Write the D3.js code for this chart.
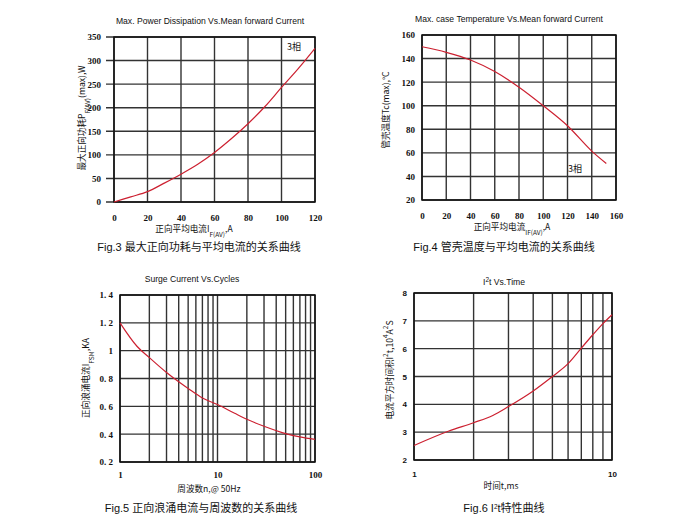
<!DOCTYPE html>
<html>
<head>
<meta charset="utf-8">
<script src="https://cdn.jsdelivr.net/npm/d3@7"></script>
<style>
  body { margin: 0; background: #fff; }
  text { fill: #111; }
  .tt { font-family: Arial, "Liberation Sans", sans-serif; font-size: 8.6px; }
  .cap { font-family: Arial, "Liberation Sans", "Noto Sans CJK SC", sans-serif; font-size: 11px; }
  .lab { font-family: "Noto Sans CJK SC", sans-serif; font-size: 8.6px; }
  .serif { font-family: "Liberation Serif", "DejaVu Serif", serif; font-weight: bold; font-size: 9px; }
  .sansb { font-family: Arial, "Liberation Sans", sans-serif; font-weight: bold; font-size: 8px; }
</style>
</head>
<body>
<div id="chart"></div>
<script>
// Fig.3 power dissipation
var powX = [0, 10, 20, 30, 40, 50, 60, 70, 80, 90, 100, 110, 120];
var powY = [0, 11, 22, 40, 59, 80, 105, 134, 166, 202, 243, 283, 326];
var powXTicks = [0, 20, 40, 60, 80, 100, 120];
var powYTicks = [0, 50, 100, 150, 200, 250, 300, 350];

// Fig.4 case temperature
var tempX = [0, 20, 40, 60, 80, 100, 120, 140, 152];
var tempY = [150, 145.3, 138.8, 129, 115.7, 100, 83, 61.5, 51];
var tempXTicks = [0, 20, 40, 60, 80, 100, 120, 140, 160];
var tempYTicks = [20, 40, 60, 80, 100, 120, 140, 160];

// Fig.5 surge current vs cycles
var surgeX = [1, 1.5, 2, 3, 4, 5, 7, 10, 15, 20, 30, 50, 70, 100];
var surgeY = [1.2, 1.03, 0.95, 0.843, 0.776, 0.728, 0.66, 0.613, 0.55, 0.507, 0.457, 0.404, 0.38, 0.362];
var surgeXTicks = [1, 10, 100];
var surgeYTicks = [0.2, 0.4, 0.6, 0.8, 1.0, 1.2, 1.4];
var surgeYLabels = ["0. 2", "0. 4", "0. 6", "0. 8", "1", "1. 2", "1. 4"];

// Fig.6 I2t vs time
var i2tX = [1, 1.5, 2, 2.5, 3, 4, 5, 6, 7, 8, 9, 10];
var i2tY = [2.52, 3.04, 3.34, 3.6, 3.92, 4.48, 5.0, 5.46, 6.02, 6.5, 6.9, 7.22];
var i2tXTicks = [1, 10];
var i2tYTicks = [2, 3, 4, 5, 6, 7, 8];

var svg = d3.select("#chart").append("svg")
  .attr("width", 700).attr("height", 531);

function panel(o) {
  var g = svg.append("g");
  var x = (o.log ? d3.scaleLog() : d3.scaleLinear()).domain(o.xd).range([o.l, o.r]);
  var y = d3.scaleLinear().domain(o.yd).range([o.b, o.t]);

  // grid
  g.append("g").selectAll("line").data(o.xGrid).enter().append("line")
    .attr("x1", d => x(d)).attr("x2", d => x(d))
    .attr("y1", o.t).attr("y2", o.b)
    .attr("stroke", "#333").attr("stroke-width", 1.4);
  g.append("g").selectAll("line").data(o.yTicks).enter().append("line")
    .attr("x1", o.l - (o.tick || 0)).attr("x2", o.r)
    .attr("y1", d => y(d)).attr("y2", d => y(d))
    .attr("stroke", "#333").attr("stroke-width", 1.4);
  g.append("rect").attr("x", o.l).attr("y", o.t)
    .attr("width", o.r - o.l).attr("height", o.b - o.t)
    .attr("fill", "none").attr("stroke", "#111").attr("stroke-width", 1.5);

  // axes (labels only)
  var xa = g.append("g").attr("transform", `translate(0,${o.b})`)
    .call(d3.axisBottom(x).tickValues(o.xTicks).tickSize(0).tickPadding(o.xPad)
      .tickFormat(d3.format("d")));
  var ya = g.append("g").attr("transform", `translate(${o.l},0)`)
    .call(d3.axisLeft(y).tickValues(o.yTicks).tickSize(0).tickPadding(o.yPad)
      .tickFormat((d, i) => o.yLabels ? o.yLabels[i] : d));
  [xa, ya].forEach(a => {
    a.select(".domain").remove();
    a.selectAll("text").attr("class", o.tickClass).attr("font-size", null)
      .attr("font-family", null).attr("fill", "#111");
    a.attr("font-size", null).attr("font-family", null);
  });

  // curve
  g.append("path").datum(d3.zip(o.xs, o.ys))
    .attr("d", d3.line().x(d => x(d[0])).y(d => y(d[1])).curve(d3.curveMonotoneX))
    .attr("fill", "none").attr("stroke", "#cc2030").attr("stroke-width", 1.2);

  // titles
  g.append("text").attr("class", "tt").attr("x", o.title[1]).attr("y", o.title[2])
    .attr("text-anchor", "middle").html(o.title[0]);
  g.append("text").attr("class", "cap").attr("x", o.cap[1]).attr("y", o.cap[2])
    .attr("text-anchor", "middle").html(o.cap[0]);
  g.append("text").attr("class", o.xlab[3] || "lab").attr("x", o.xlab[1]).attr("y", o.xlab[2])
    .attr("text-anchor", "middle").html(o.xlab[0]);
  g.append("text").attr("class", "lab")
    .attr("transform", `translate(${o.ylab[1]},${o.ylab[2]}) rotate(-90)`)
    .attr("text-anchor", "middle").html(o.ylab[0]);
  if (o.note) {
    g.append("text").attr("class", "lab").attr("x", o.note[1]).attr("y", o.note[2])
      .style("font-size", "9px").text(o.note[0]);
  }
}

var sub = s => `<tspan baseline-shift="sub" font-size="6.5px">${s}</tspan>`;
var sup = s => `<tspan baseline-shift="super" font-size="6.5px">${s}</tspan>`;

panel({
  l: 114, r: 315, t: 37, b: 202, xd: [0, 120], yd: [0, 350],
  xs: powX, ys: powY, xTicks: powXTicks, xGrid: powXTicks, yTicks: powYTicks,
  tick: 8, xPad: 13, yPad: 13, tickClass: "serif",
  title: ["Max. Power Dissipation Vs.Mean forward Current", 210, 24],
  cap: ["Fig.3 最大正向功耗与平均电流的关系曲线", 199, 251],
  xlab: ["正向平均电流I" + sub("F(AV)") + ",A", 194, 232],
  ylab: ["最大正向功耗P" + sub("F(AV)") + "(max),W", 85, 118],
  note: ["3相", 287, 50]
});

panel({
  l: 422, r: 616, t: 35, b: 200, xd: [0, 160], yd: [20, 160],
  xs: tempX, ys: tempY, xTicks: tempXTicks, xGrid: tempXTicks, yTicks: tempYTicks,
  xPad: 13, yPad: 7, tickClass: "serif",
  title: ["Max. case Temperature Vs.Mean forward Current", 509, 22],
  cap: ["Fig.4 管壳温度与平均电流的关系曲线", 504, 251],
  xlab: ["正向平均电流" + sub("IF(AV)") + ",A", 512, 230],
  ylab: ["管壳温度Tc(max),°C", 389, 110],
  note: ["3相", 568, 172]
});

panel({
  l: 120, r: 315, t: 295, b: 462, xd: [1, 100], yd: [0.2, 1.4], log: true,
  xs: surgeX, ys: surgeY, xTicks: surgeXTicks, xGrid: d3.range(1, 10).concat(d3.range(10, 101, 10)),
  yTicks: surgeYTicks, yLabels: surgeYLabels,
  xPad: 10, yPad: 7, tickClass: "serif",
  title: ["Surge Current Vs.Cycles", 192, 282],
  cap: ["Fig.5 正向浪涌电流与周波数的关系曲线", 201, 512],
  xlab: ["周波数n,@ 50Hz", 209, 492],
  ylab: ["正向浪涌电流I" + sub("FSM") + ",KA", 89, 378]
});

panel({
  l: 414, r: 612, t: 293, b: 460, xd: [1, 10], yd: [2, 8], log: true,
  xs: i2tX, ys: i2tY, xTicks: i2tXTicks, xGrid: d3.range(1, 11), yTicks: i2tYTicks,
  xPad: 11, yPad: 7, tickClass: "sansb",
  title: ["I" + sup("2") + "t  Vs.Time", 504, 285],
  cap: ["Fig.6 I" + sup("2") + "t特性曲线", 504, 512],
  xlab: ["时间t,ms", 501, 489, "lab"],
  ylab: ["电流平方时间积I" + sup("2") + "t,10" + sup("4") + "A" + sup("2") + "S", 393, 370]
});
</script>
</body>
</html>
